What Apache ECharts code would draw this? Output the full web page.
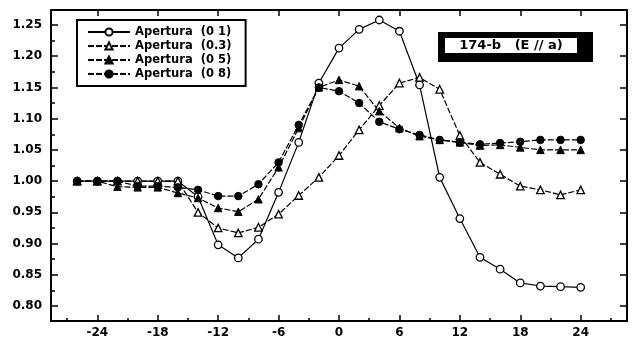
<!DOCTYPE html>
<html>
<head>
<meta charset="utf-8">
<script src="https://cdn.jsdelivr.net/npm/echarts@6/dist/echarts.min.js"></script>
<style>
  html, body { margin: 0; padding: 0; background: #fff; }
  #chart { width: 632px; height: 339px; }
</style>
</head>
<body>
<div id="chart"></div>
<script>
// Angular positions (x) and normalised values for each aperture
const positions = [-26, -24, -22, -20, -18, -16, -14, -12, -10, -8, -6, -4, -2,
                   0, 2, 4, 6, 8, 10, 12, 14, 16, 18, 20, 22, 24];

const apertura01 = [1.000, 1.000, 1.000, 1.000, 1.000, 1.000, 0.975, 0.898, 0.877, 0.907, 0.982, 1.062, 1.157,
                    1.213, 1.243, 1.258, 1.240, 1.154, 1.006, 0.940, 0.878, 0.859, 0.837, 0.832, 0.831, 0.830];
const apertura03 = [1.000, 1.000, 1.000, 1.000, 1.000, 1.000, 0.950, 0.925, 0.917, 0.926, 0.947, 0.977, 1.006,
                    1.041, 1.082, 1.121, 1.157, 1.166, 1.147, 1.073, 1.030, 1.011, 0.992, 0.986, 0.978, 0.986];
const apertura05 = [1.000, 1.000, 0.991, 0.990, 0.990, 0.981, 0.973, 0.957, 0.951, 0.971, 1.022, 1.085, 1.150,
                    1.162, 1.152, 1.112, 1.085, 1.072, 1.066, 1.062, 1.057, 1.058, 1.054, 1.050, 1.050, 1.050];
const apertura08 = [1.000, 1.000, 1.000, 0.992, 0.992, 0.990, 0.986, 0.976, 0.976, 0.995, 1.030, 1.090, 1.150,
                    1.144, 1.125, 1.095, 1.083, 1.074, 1.066, 1.062, 1.059, 1.061, 1.063, 1.066, 1.066, 1.066];

const seriesNames = ['Apertura  (0 1)', 'Apertura  (0.3)', 'Apertura  (0 5)', 'Apertura  (0 8)'];

// Tick positions
const xMajorTicks = [-24, -18, -12, -6, 0, 6, 12, 18, 24];
const xMinorTicks = [-27, -21, -15, -9, -3, 3, 9, 15, 21, 27];
const yMajorTicks = [0.80, 0.85, 0.90, 0.95, 1.00, 1.05, 1.10, 1.15, 1.20, 1.25];
const yMinorTicks = [0.825, 0.875, 0.925, 0.975, 1.025, 1.075, 1.125, 1.175, 1.225];

const X_MIN = -28.6, X_MAX = 28.6;
const Y_MIN = 0.776, Y_MAX = 1.274;

const FONT = '"DejaVu Sans", "Liberation Sans", Arial, sans-serif';
const pairs = vals => positions.map((x, i) => [x, vals[i]]);

function xAxisDef(pos, ticks, len, labels) {
  return {
    type: 'value', min: X_MIN, max: X_MAX, position: pos,
    axisLine: { show: false, onZero: false },
    splitLine: { show: false },
    axisTick: { show: true, inside: true, length: len, customValues: ticks,
                lineStyle: { color: '#000', width: 1.5 } },
    axisLabel: labels ? {
      show: true, customValues: ticks, margin: 6,
      color: '#000', fontFamily: FONT, fontWeight: 'bold', fontSize: 12
    } : { show: false }
  };
}
function yAxisDef(pos, ticks, len, labels) {
  return {
    type: 'value', min: Y_MIN, max: Y_MAX, position: pos,
    axisLine: { show: false, onZero: false },
    splitLine: { show: false },
    axisTick: { show: true, inside: true, length: len, customValues: ticks,
                lineStyle: { color: '#000', width: 1.5 } },
    axisLabel: labels ? {
      show: true, customValues: ticks, margin: 9,
      formatter: v => v.toFixed(2),
      color: '#000', fontFamily: FONT, fontWeight: 'bold', fontSize: 12
    } : { show: false }
  };
}

const openStyle = { color: '#fff', borderColor: '#000', borderWidth: 1.3 };
const solidStyle = { color: '#000', borderColor: '#000', borderWidth: 1 };

function lineSeries(name, vals, symbol, itemStyle, dashed) {
  return {
    name, type: 'line', data: pairs(vals),
    symbol, symbolSize: 7.5,
    showAllSymbol: true,
    itemStyle,
    lineStyle: { color: '#000', width: 1.2, type: dashed ? [6, 2] : 'solid' },
    emphasis: { disabled: true },
    animation: false
  };
}

const chart = echarts.init(document.getElementById('chart'), null, { renderer: 'canvas' });
chart.setOption({
  backgroundColor: '#fff',
  animation: false,
  grid: { left: 51, right: 5, top: 10, bottom: 17, show: true,
          borderColor: '#000', borderWidth: 2, backgroundColor: 'transparent' },
  xAxis: [
    xAxisDef('bottom', xMajorTicks, 6, true),
    xAxisDef('bottom', xMinorTicks, 3, false),
    xAxisDef('top', xMajorTicks, 6, false)
  ],
  yAxis: [
    yAxisDef('left', yMajorTicks, 7, true),
    yAxisDef('left', yMinorTicks, 4, false),
    yAxisDef('right', yMajorTicks, 7, false)
  ],
  legend: {
    data: seriesNames,
    orient: 'vertical', left: 77, top: 20,
    padding: [6, 14, 6, 10],
    itemWidth: 42, itemHeight: 9, itemGap: 2,
    backgroundColor: '#fff', borderColor: '#000', borderWidth: 2,
    selectedMode: false,
    textStyle: { color: '#000', fontFamily: FONT, fontWeight: 'bold', fontSize: 11.5, lineHeight: 11 }
  },
  graphic: [
    { type: 'rect', shape: { x: 438, y: 32, width: 155, height: 30 }, style: { fill: '#000' } },
    { type: 'rect', shape: { x: 445, y: 38, width: 132, height: 15 }, style: { fill: '#fff' } },
    { type: 'text', x: 511, y: 46,
      style: { text: '174-b   (E // a)', font: 'bold 13px ' + FONT,
               textAlign: 'center', textVerticalAlign: 'middle', fill: '#000' } }
  ],
  series: [
    lineSeries(seriesNames[0], apertura01, 'circle', openStyle, false),
    lineSeries(seriesNames[1], apertura03, 'triangle', openStyle, true),
    lineSeries(seriesNames[2], apertura05, 'triangle', solidStyle, true),
    lineSeries(seriesNames[3], apertura08, 'circle', solidStyle, true)
  ]
});
</script>
</body>
</html>
